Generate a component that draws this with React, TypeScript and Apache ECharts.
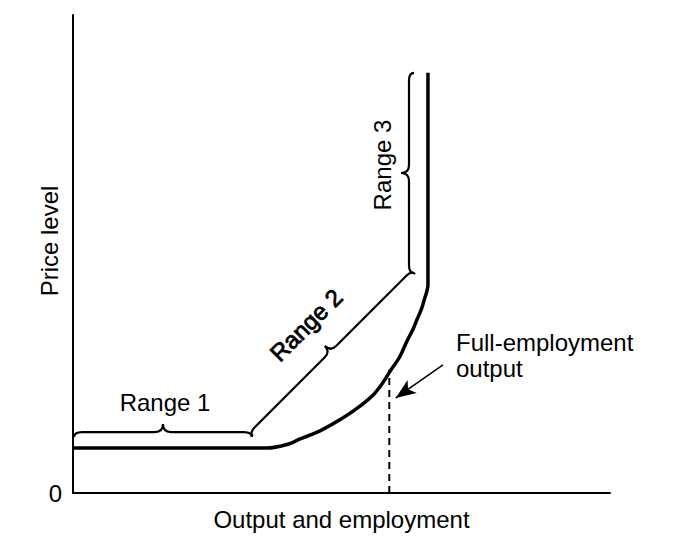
import React, { useEffect, useRef } from "react";
import * as echarts from "echarts";

// Aggregate supply curve (data units: x 0..100 output, y 0..100 price level)
const curveX = [0, 36.1, 40.0, 42.3, 46.0, 49.7, 53.0, 55.9, 57.6, 59.0, 60.8, 62.2, 63.3, 64.1, 64.9, 65.4, 65.9, 66.1, 66.1];
const curveY = [9.4, 9.4, 10.2, 11.3, 13.0, 15.3, 17.8, 20.5, 22.9, 25.4, 28.4, 31.8, 34.2, 36.4, 38.5, 40.4, 42.2, 43.5, 87.9];

// Full-employment output level
const fullEmploymentX = [58.9, 58.9];
const fullEmploymentY = [0, 25.8];

// Range braces: start and end points
const braceNames = ["Range 1", "Range 2", "Range 3"];
const braceStart = [[0.2, 11.7], [33.5, 11.9], [63.5, 46.0]];
const braceEnd = [[33.3, 11.7], [63.7, 45.8], [63.5, 87.9]];

// Arrow pointing to full-employment output
const arrowFrom = [68.9, 26.8];
const arrowTo = [60.1, 19.9];

const yTickLabels = ["0"];

const FONT = "'Liberation Sans', Arial, Helvetica, sans-serif";

export default function App() {
  const ref = useRef<HTMLDivElement>(null);

  useEffect(() => {
    if (!ref.current) return;
    const chart = echarts.init(ref.current, null, { renderer: "svg" });

    const braceData = braceStart.map((s, i) => [s[0], s[1], braceEnd[i][0], braceEnd[i][1]]);

    const option: any = {
      animation: false,
      backgroundColor: "#ffffff",
      grid: { left: 73, right: 77, top: 15, bottom: 58, containLabel: false },
      xAxis: {
        type: "value",
        min: 0,
        max: 100,
        name: "Output and employment",
        nameLocation: "middle",
        nameGap: 14,
        nameTextStyle: { color: "#000", fontSize: 24, fontFamily: FONT, verticalAlign: "top" },
        axisLine: { show: true, lineStyle: { color: "#000", width: 2 } },
        axisTick: { show: false },
        axisLabel: { show: false },
        splitLine: { show: false },
      },
      yAxis: {
        type: "value",
        min: 0,
        max: 100,
        interval: 100,
        axisLine: { show: true, lineStyle: { color: "#000", width: 2 } },
        axisTick: { show: false },
        axisLabel: {
          show: true,
          color: "#000",
          fontSize: 24,
          fontFamily: FONT,
          margin: 11,
          verticalAlign: "middle",
          formatter: (v: number) => (v === 0 ? yTickLabels[0] : ""),
        },
        splitLine: { show: false },
      },
      graphic: [
        {
          type: "text",
          x: 49,
          y: 241,
          rotation: Math.PI / 2,
          style: { text: "Price level", font: `24px ${FONT}`, fill: "#000", align: "center", verticalAlign: "middle" },
        },
        {
          type: "text",
          x: 165,
          y: 402,
          style: { text: braceNames[0], font: `24px ${FONT}`, fill: "#000", align: "center", verticalAlign: "middle" },
        },
        {
          type: "text",
          x: 306,
          y: 325,
          rotation: Math.PI / 4,
          style: {
            text: braceNames[1],
            font: `24px ${FONT}`,
            fill: "#000",
            stroke: "#000",
            lineWidth: 0.8,
            align: "center",
            verticalAlign: "middle",
          },
        },
        {
          type: "text",
          x: 382,
          y: 165,
          rotation: Math.PI / 2,
          style: { text: braceNames[2], font: `24px ${FONT}`, fill: "#000", align: "center", verticalAlign: "middle" },
        },
        {
          type: "text",
          x: 456,
          y: 329,
          style: {
            text: "Full-employment\noutput",
            font: `24px ${FONT}`,
            lineHeight: 26,
            fill: "#000",
            align: "left",
            verticalAlign: "top",
          },
        },
      ],
      series: [
        {
          type: "line",
          data: curveX.map((x, i) => [x, curveY[i]]),
          smooth: 0.3,
          symbol: "none",
          lineStyle: { color: "#000", width: 3.5 },
          silent: true,
          z: 3,
        },
        {
          type: "line",
          data: fullEmploymentX.map((x, i) => [x, fullEmploymentY[i]]),
          symbol: "none",
          lineStyle: { color: "#000", width: 2, type: [7, 5] },
          silent: true,
          markLine: {
            silent: true,
            symbol: ["none", "arrow"],
            symbolSize: [12, 20],
            label: { show: false },
            lineStyle: { color: "#000", width: 1.6, type: "solid" },
            data: [[{ coord: arrowFrom }, { coord: arrowTo }]],
          },
        },
        {
          type: "custom",
          coordinateSystem: "cartesian2d",
          data: braceData,
          silent: true,
          clip: false,
          renderItem: (params: any, api: any) => {
            const A = api.coord([api.value(0), api.value(1)]);
            const B = api.coord([api.value(2), api.value(3)]);
            const dx = B[0] - A[0];
            const dy = B[1] - A[1];
            const L = Math.sqrt(dx * dx + dy * dy);
            const u = [dx / L, dy / L];
            const n = [u[1], -u[0]];
            const d1 = 5;
            const d2 = 13;
            const q = 8;
            const M = [(A[0] + B[0]) / 2, (A[1] + B[1]) / 2];
            const p = (base: number[], a: number, b: number) =>
              `${(base[0] + n[0] * a + u[0] * b).toFixed(2)} ${(base[1] + n[1] * a + u[1] * b).toFixed(2)}`;
            const d =
              `M ${p(A, 0, 0)} Q ${p(A, d1, 0)} ${p(A, d1, q)} L ${p(M, d1, -q)} Q ${p(M, d1, 0)} ${p(M, d2, 0)} ` +
              `Q ${p(M, d1, 0)} ${p(M, d1, q)} L ${p(B, d1, -q)} Q ${p(B, d1, 0)} ${p(B, 0, 0)}`;
            return {
              type: "path",
              shape: { pathData: d },
              style: { fill: "none", stroke: "#000", lineWidth: 2.2 },
            };
          },
          z: 2,
        },
      ],
    };

    chart.setOption(option);
    return () => chart.dispose();
  }, []);

  return (
    <div
      ref={ref}
      style={{ position: "fixed", left: 0, top: 0, width: 687, height: 551, background: "#fff" }}
    />
  );
}
